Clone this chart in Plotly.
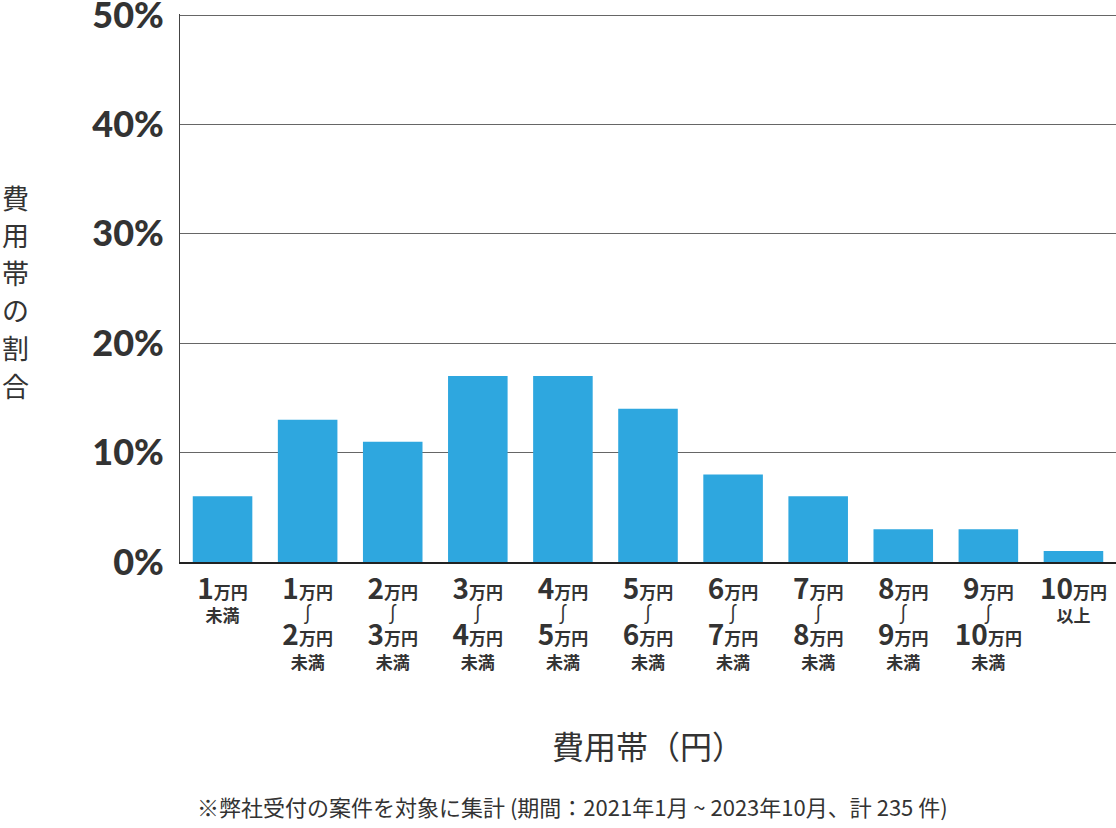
import plotly.graph_objects as go

# 費用帯ごとの割合 (%)
categories = ["1万円未満", "1〜2万円", "2〜3万円", "3〜4万円", "4〜5万円", "5〜6万円",
              "6〜7万円", "7〜8万円", "8〜9万円", "9〜10万円", "10万円以上"]
shares = [6, 13, 11, 17, 17, 14, 8, 6, 3, 3, 1]
lower = [None, 1, 2, 3, 4, 5, 6, 7, 8, 9, None]
upper = [1, 2, 3, 4, 5, 6, 7, 8, 9, 10, 10]
y_ticks = [0, 10, 20, 30, 40, 50]
y_title = "費用帯の割合"

FONT = "Noto Sans CJK JP"
BAR = "#2EA7DF"
TXT = "#333333"

W, H = 1116, 828
L, T, B = 180, 14, 828 - 562
PW, PH = W - L, H - T - B


def yen(n):
    return (f"<b><span style='font-size:28px'>{n}</span>"
            f"<span style='font-size:17px'>万円</span></b>")


def label(lo, hi, i):
    small = "<b><span style='font-size:17px'>{}</span></b>"
    if lo is None and i == 0:
        return yen(hi) + "<br>" + small.format("未満")
    if lo is None:
        return yen(hi) + "<br>" + small.format("以上")
    return (yen(lo) + "<br><span style='font-size:20px'>∫</span><br>"
            + yen(hi) + "<br>" + small.format("未満"))


tick_text = [label(lo, hi, i) for i, (lo, hi) in enumerate(zip(lower, upper))]

fig = go.Figure()
fig.add_trace(go.Bar(
    x=categories,
    y=shares,
    marker_color=BAR,
    marker_line_width=0,
    hoverinfo="skip",
))

fig.update_layout(
    width=W,
    height=H,
    margin=dict(l=L, r=0, t=T, b=B),
    plot_bgcolor="white",
    paper_bgcolor="white",
    showlegend=False,
    bargap=0.3,
    font=dict(family=FONT, color=TXT, size=18),
)

fig.update_xaxes(
    tickmode="array",
    tickvals=categories,
    ticktext=tick_text,
    tickfont=dict(family=FONT, size=18, color=TXT),
    showline=True,
    linecolor="#222222",
    linewidth=2,
    ticks="",
    ticklabelstandoff=13,
    showgrid=False,
    automargin=False,
    fixedrange=True,
)

fig.update_yaxes(
    range=[0, 50.1],
    tickvals=y_ticks,
    ticktext=[f"{v}%" for v in y_ticks],
    tickfont=dict(family="Lato", size=36, color=TXT, weight=900),
    ticklabeloverflow="allow",
    showgrid=True,
    gridcolor="#666666",
    gridwidth=1,
    showline=True,
    linecolor="#444444",
    linewidth=1,
    ticks="",
    ticklabelstandoff=8,
    zeroline=False,
    automargin=False,
    fixedrange=True,
)

# 縦書きの軸タイトル (1文字ずつ)
for i, ch in enumerate(y_title):
    fig.add_annotation(
        text=ch,
        xref="paper", yref="paper",
        x=-L / PW, y=1,
        xanchor="left", yanchor="middle",
        xshift=0,
        yshift=-(197 - 14) - i * 37.6,
        showarrow=False,
        font=dict(family=FONT, size=27, color=TXT),
    )

fig.add_annotation(
    text="費用帯（円）",
    xref="paper", yref="paper",
    x=0.5, y=0,
    yshift=-(745 - 562),
    yanchor="middle",
    showarrow=False,
    font=dict(family=FONT, size=32, color=TXT),
)

fig.add_annotation(
    text="※弊社受付の案件を対象に集計 (期間：2021年1月 ~ 2023年10月、計 235 件)",
    xref="paper", yref="paper",
    x=(572 - 180) / PW, y=0,
    yshift=-(806 - 562),
    yanchor="middle",
    showarrow=False,
    font=dict(family=FONT, size=22, color=TXT),
)

# body の既定余白 (8px) を消し、モードバーは出さない
fig.write_html(
    "out.html",
    config={"displayModeBar": False},
    post_script="document.body.style.margin='0px';",
)
